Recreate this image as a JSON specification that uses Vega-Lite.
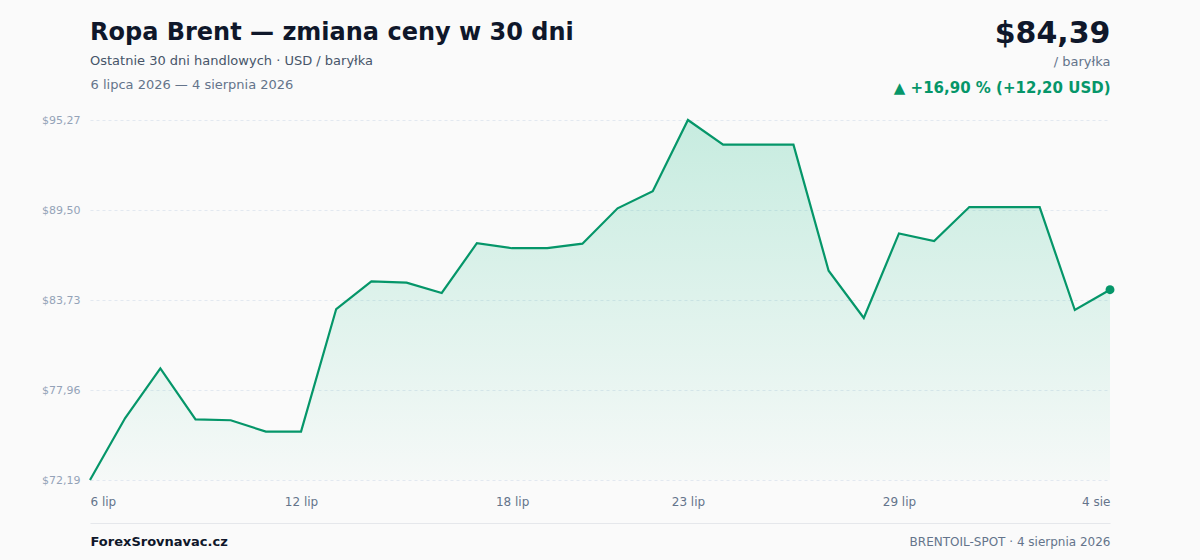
{
  "$schema": "https://vega.github.io/schema/vega-lite/v6.json",
  "width": 1020,
  "height": 360,
  "autosize": "none",
  "padding": {"left": 90, "top": 120, "right": 90, "bottom": 80},
  "background": "#fafafa",
  "title": {
    "text": "Ropa Brent — zmiana ceny w 30 dni",
    "subtitle": "Ostatnie 30 dni handlowych · USD / baryłka",
    "anchor": "start",
    "frame": "group",
    "offset": -50,
    "fontSize": 24,
    "fontWeight": "bold",
    "color": "#0f172a",
    "subtitleFontSize": 13,
    "subtitleColor": "#475569",
    "subtitlePadding": 10
  },
  "data": {
    "values": [
      {"date": "2026-07-06", "price": 72.19},
      {"date": "2026-07-07", "price": 76.16},
      {"date": "2026-07-08", "price": 79.35},
      {"date": "2026-07-09", "price": 76.08},
      {"date": "2026-07-10", "price": 76.02},
      {"date": "2026-07-11", "price": 75.29},
      {"date": "2026-07-12", "price": 75.29},
      {"date": "2026-07-13", "price": 83.15},
      {"date": "2026-07-14", "price": 84.93},
      {"date": "2026-07-15", "price": 84.84},
      {"date": "2026-07-16", "price": 84.18},
      {"date": "2026-07-17", "price": 87.37},
      {"date": "2026-07-18", "price": 87.05},
      {"date": "2026-07-19", "price": 87.05},
      {"date": "2026-07-20", "price": 87.34},
      {"date": "2026-07-21", "price": 89.61},
      {"date": "2026-07-22", "price": 90.70},
      {"date": "2026-07-23", "price": 95.27},
      {"date": "2026-07-24", "price": 93.69},
      {"date": "2026-07-25", "price": 93.69},
      {"date": "2026-07-26", "price": 93.69},
      {"date": "2026-07-27", "price": 85.61},
      {"date": "2026-07-28", "price": 82.58},
      {"date": "2026-07-29", "price": 88.00},
      {"date": "2026-07-30", "price": 87.51},
      {"date": "2026-07-31", "price": 89.69},
      {"date": "2026-08-01", "price": 89.69},
      {"date": "2026-08-02", "price": 89.69},
      {"date": "2026-08-03", "price": 83.09},
      {"date": "2026-08-04", "price": 84.39}
    ]
  },
  "layer": [
    {
      "mark": {
        "type": "area",
        "color": {
          "gradient": "linear",
          "x1": 0, "y1": 0, "x2": 0, "y2": 1,
          "stops": [
            {"offset": 0, "color": "rgba(16,185,129,0.22)"},
            {"offset": 1, "color": "rgba(16,185,129,0.02)"}
          ]
        }
      },
      "encoding": {
        "x": {
          "field": "date",
          "type": "temporal",
          "scale": {"type": "utc", "nice": false},
          "axis": {
            "orient": "bottom",
            "values": [
              {"year": 2026, "month": 7, "date": 6, "utc": true},
              {"year": 2026, "month": 7, "date": 12, "utc": true},
              {"year": 2026, "month": 7, "date": 18, "utc": true},
              {"year": 2026, "month": 7, "date": 23, "utc": true},
              {"year": 2026, "month": 7, "date": 29, "utc": true},
              {"year": 2026, "month": 8, "date": 4, "utc": true}
            ],
            "labelExpr": "utcdate(datum.value) + (utcmonth(datum.value) == 6 ? ' lip' : ' sie')",
            "labelFlush": true,
            "labelFontSize": 12,
            "labelColor": "#64748b",
            "labelPadding": 16,
            "ticks": false,
            "domain": false,
            "grid": false,
            "title": "ForexSrovnavac.cz",
            "titleX": 0,
            "titleY": 65,
            "titleAlign": "left",
            "titleBaseline": "alphabetic",
            "titleFontSize": 13,
            "titleFontWeight": "bold",
            "titleColor": "#0f172a"
          }
        },
        "y": {
          "field": "price",
          "type": "quantitative",
          "scale": {"domain": [72.19, 95.27], "zero": false, "nice": false},
          "axis": {
            "orient": "left",
            "values": [72.19, 77.96, 83.73, 89.50, 95.27],
            "labelExpr": "'$' + replace(format(datum.value, '.2f'), '.', ',')",
            "labelFontSize": 11,
            "labelColor": "#94a3b8",
            "labelPadding": 10,
            "ticks": false,
            "domain": false,
            "grid": true,
            "gridColor": "#e2e8f0",
            "gridDash": [3, 3],
            "title": "6 lipca 2026 — 4 sierpnia 2026",
            "titleAngle": 0,
            "titleX": 0,
            "titleY": -32,
            "titleAlign": "left",
            "titleBaseline": "alphabetic",
            "titleFontSize": 13,
            "titleFontWeight": "normal",
            "titleColor": "#64748b"
          }
        },
        "y2": {"datum": 72.19}
      }
    },
    {
      "mark": {"type": "line", "color": "#059669", "strokeWidth": 2.2},
      "encoding": {
        "x": {
          "field": "date",
          "type": "temporal",
          "scale": {"type": "utc", "nice": false},
          "axis": {
            "orient": "bottom",
            "offset": 43,
            "labels": false,
            "ticks": false,
            "grid": false,
            "domain": true,
            "domainColor": "#e5e7eb",
            "domainWidth": 1,
            "title": "BRENTOIL-SPOT · 4 sierpnia 2026",
            "titleX": 1020,
            "titleY": 22,
            "titleAlign": "right",
            "titleBaseline": "alphabetic",
            "titleFontSize": 12,
            "titleFontWeight": "normal",
            "titleColor": "#64748b"
          }
        },
        "y": {
          "field": "price",
          "type": "quantitative",
          "scale": {"domain": [72.19, 95.27], "zero": false, "nice": false},
          "axis": {
            "orient": "right",
            "labels": false,
            "ticks": false,
            "grid": false,
            "domain": false,
            "title": "$84,39",
            "titleAngle": 0,
            "titleX": 0,
            "titleY": -78,
            "titleAlign": "right",
            "titleBaseline": "alphabetic",
            "titleFontSize": 30,
            "titleFontWeight": "bold",
            "titleColor": "#0f172a"
          }
        }
      }
    },
    {
      "transform": [{"filter": "datum.price == 84.39"}],
      "mark": {"type": "point", "filled": true, "size": 80, "color": "#059669", "opacity": 1},
      "encoding": {
        "x": {
          "field": "date",
          "type": "temporal",
          "scale": {"type": "utc", "nice": false},
          "axis": {
            "orient": "top",
            "labels": false,
            "ticks": false,
            "grid": false,
            "domain": false,
            "title": "▲ +16,90 % (+12,20 USD)",
            "titleX": 1020,
            "titleY": -28,
            "titleAlign": "right",
            "titleBaseline": "alphabetic",
            "titleFontSize": 15,
            "titleFontWeight": "bold",
            "titleColor": "#059669"
          }
        },
        "y": {
          "field": "price",
          "type": "quantitative",
          "scale": {"domain": [72.19, 95.27], "zero": false, "nice": false},
          "axis": {
            "orient": "right",
            "labels": false,
            "ticks": false,
            "grid": false,
            "domain": false,
            "title": "/ baryłka",
            "titleAngle": 0,
            "titleX": 0,
            "titleY": -55,
            "titleAlign": "right",
            "titleBaseline": "alphabetic",
            "titleFontSize": 13,
            "titleFontWeight": "normal",
            "titleColor": "#64748b"
          }
        }
      }
    }
  ],
  "resolve": {"axis": {"x": "independent", "y": "independent"}},
  "config": {
    "font": "DejaVu Sans",
    "view": {"stroke": null}
  }
}
